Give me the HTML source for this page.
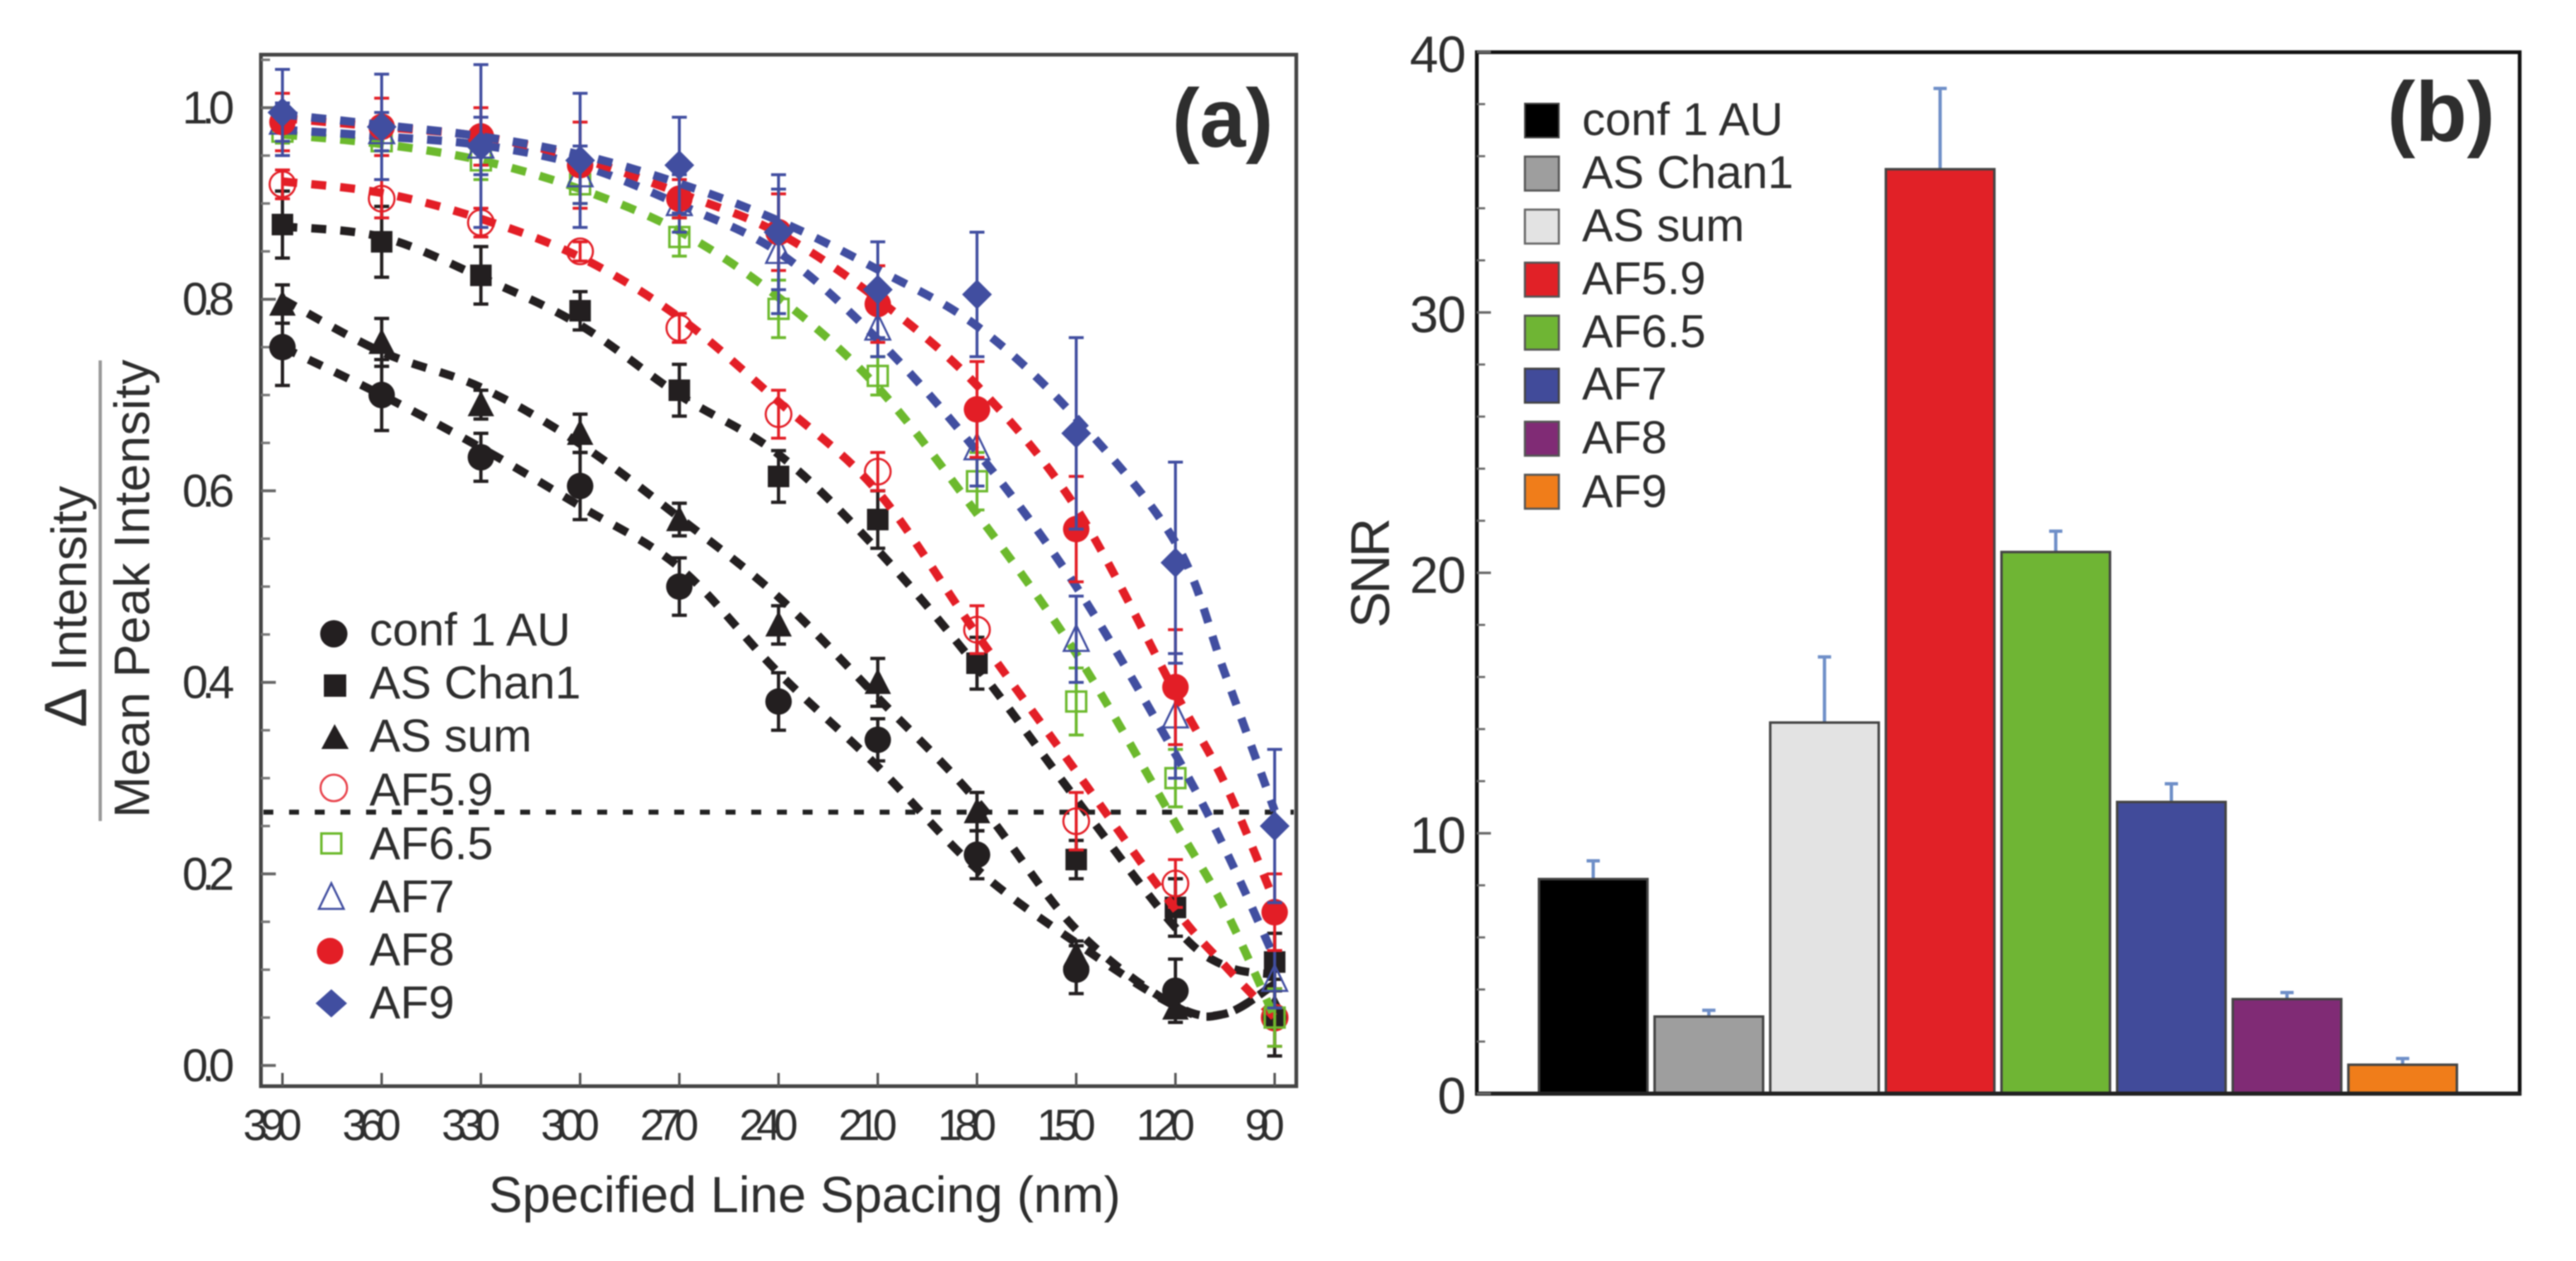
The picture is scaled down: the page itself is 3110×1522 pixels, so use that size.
<!DOCTYPE html>
<html lang="en">
<head>
<meta charset="utf-8">
<title>Resolution and SNR comparison</title>
<style>
html,body{margin:0;padding:0;background:#fff;width:3110px;height:1522px;overflow:hidden}
svg{display:block;filter:blur(0.9px)}
text{font-family:"Liberation Sans",sans-serif;fill:#2e2e2e}
</style>
</head>
<body>
<svg id="fig" xmlns="http://www.w3.org/2000/svg" width="3110" height="1522" viewBox="0 0 3110 1522">
  <rect x="0" y="0" width="3110" height="1522" fill="#fff"/>

  <g id="panelA">
    <rect x="315" y="66" width="1250" height="1245" fill="none" stroke="#444" stroke-width="4.5"/>
    <g id="aAxes"></g>
    <line id="aThreshold" x1="318" x2="1562" stroke="#222" stroke-width="6" stroke-dasharray="12 19"/>
    <g id="aMarks"></g>
    <text x="1415" y="177" font-size="100" font-weight="bold">(a)</text>
    <text x="590" y="1463" font-size="61" textLength="763">Specified Line Spacing (nm)</text>
    <text transform="translate(104,878) rotate(-90)"><tspan font-size="72" x="0">Δ</tspan><tspan font-size="60" x="68">Intensity</tspan></text>
    <line x1="121" x2="121" y1="435" y2="991" stroke="#999" stroke-width="4"/>
    <text transform="translate(180,987) rotate(-90)" font-size="60" textLength="553">Mean Peak Intensity</text>

    <g font-size="56">
      <g><circle cx="403" cy="765" r="16.5" fill="#231f20"/><text x="446" y="779">conf 1 AU</text></g>
      <g><rect x="391" y="814" width="27" height="27" fill="#231f20"/><text x="446" y="843">AS Chan1</text></g>
      <g><path d="M404 874 L421 904 L388 904 Z" fill="#231f20"/><text x="446" y="907">AS sum</text></g>
      <g><circle cx="403" cy="951" r="16" fill="none" stroke="#e8414a" stroke-width="2.5"/><text x="446" y="972">AF5.9</text></g>
      <g><rect x="388" y="1006" width="24" height="24" fill="none" stroke="#6cb92d" stroke-width="3"/><text x="446" y="1037">AF6.5</text></g>
      <g><path d="M400 1066 L415 1097 L385 1097 Z" fill="none" stroke="#414ea0" stroke-width="2.5"/><text x="446" y="1101">AF7</text></g>
      <g><circle cx="398.500" cy="1148" r="16" fill="#e31e26"/><text x="446" y="1165">AF8</text></g>
      <g><path d="M400 1194 L419 1211 L400 1228 L381 1211 Z" fill="#414ea0"/><text x="446" y="1229">AF9</text></g>
    </g>
  </g>

  <g id="panelB">
    <g id="bBars"></g>
    <rect x="1783" y="63" width="1259" height="1257" fill="none" stroke="#111" stroke-width="4.5"/>
    <g id="bAxes"></g>
    <text x="2882" y="170" font-size="102" font-weight="bold">(b)</text>
    <text transform="translate(1677,758) rotate(-90)" font-size="66" textLength="133">SNR</text>

    <g font-size="56">
      <g><rect x="1841" y="125" width="41" height="41" fill="#000" stroke="#444" stroke-width="2"/><text x="1910" y="163">conf 1 AU</text></g>
      <g><rect x="1841" y="189" width="41" height="41" fill="#9e9e9e" stroke="#555" stroke-width="2.500"/><text x="1910" y="227">AS Chan1</text></g>
      <g><rect x="1841" y="253" width="41" height="41" fill="#e3e3e3" stroke="#666" stroke-width="2.500"/><text x="1910" y="291">AS sum</text></g>
      <g><rect x="1841" y="317" width="41" height="41" fill="#e12127" stroke="#555" stroke-width="2.500"/><text x="1910" y="355">AF5.9</text></g>
      <g><rect x="1841" y="381" width="41" height="41" fill="#6fb534" stroke="#555" stroke-width="2.500"/><text x="1910" y="419">AF6.5</text></g>
      <g><rect x="1841" y="445" width="41" height="41" fill="#414b9a" stroke="#444" stroke-width="2.500"/><text x="1910" y="482">AF7</text></g>
      <g><rect x="1841" y="509" width="41" height="41" fill="#802b75" stroke="#555" stroke-width="2.500"/><text x="1910" y="547">AF8</text></g>
      <g><rect x="1841" y="573" width="41" height="41" fill="#f07d1a" stroke="#555" stroke-width="2.500"/><text x="1910" y="612">AF9</text></g>
    </g>
  </g>
</svg>

<script>
// ---------- Panel (a) data ----------
const spacings = [390, 360, 330, 300, 270, 240, 210, 180, 150, 120, 90];
const fitSpacings = [390, 360, 330, 300, 270, 240, 210, 180, 150, 120, 105, 90];
const thresholdValue = 0.2645;
const aYTicks = [0.0, 0.2, 0.4, 0.6, 0.8, 1.0];
const aYTickLabels = ['0.0', '0.2', '0.4', '0.6', '0.8', '1.0'];
const aYMinorTicks = [0.05, 0.1, 0.15, 0.25, 0.3, 0.35, 0.45, 0.5, 0.55, 0.65, 0.7, 0.75, 0.85, 0.9, 0.95, 1.05];

const confValues = [0.75, 0.70, 0.635, 0.605, 0.50, 0.38, 0.34, 0.22, 0.10, 0.078, 0.05];
const confErrors = [0.04, 0.037, 0.025, 0.035, 0.03, 0.03, 0.022, 0.025, 0.025, 0.033, 0.04];
const confFit = [0.75, 0.70, 0.645, 0.584, 0.52, 0.41, 0.312, 0.205, 0.128, 0.062, 0.054, 0.085];

const chan1Values = [0.878, 0.86, 0.825, 0.788, 0.705, 0.615, 0.57, 0.42, 0.215, 0.165, 0.108];
const chan1Errors = [0.035, 0.037, 0.03, 0.02, 0.027, 0.027, 0.03, 0.027, 0.02, 0.03, 0.03];
const chan1Fit = [0.876, 0.865, 0.823, 0.773, 0.70, 0.638, 0.538, 0.416, 0.278, 0.144, 0.104, 0.095];

const sumValues = [0.795, 0.755, 0.69, 0.66, 0.57, 0.46, 0.40, 0.265, 0.115, 0.06, 0.06];
const sumErrors = [0.02, 0.025, 0.015, 0.02, 0.017, 0.02, 0.025, 0.02, 0.015, 0.01, 0.02];
const sumFit = [0.80, 0.745, 0.708, 0.649, 0.572, 0.489, 0.384, 0.276, 0.142, 0.062, 0.054, 0.085];

const af59Values = [0.92, 0.905, 0.88, 0.85, 0.77, 0.68, 0.62, 0.455, 0.255, 0.19, 0.05];
const af59Errors = [0.015, 0.02, 0.015, 0.01, 0.015, 0.025, 0.02, 0.025, 0.03, 0.025, 0.03];
const af59Fit = [0.923, 0.911, 0.884, 0.844, 0.781, 0.693, 0.599, 0.45, 0.307, 0.163, 0.104, 0.05];

const af65Values = [0.975, 0.965, 0.945, 0.92, 0.865, 0.79, 0.72, 0.61, 0.38, 0.30, 0.05];
const af65Errors = [0.012, 0.015, 0.02, 0.02, 0.02, 0.03, 0.02, 0.03, 0.035, 0.03, 0.03];
const af65Fit = [0.972, 0.962, 0.945, 0.915, 0.871, 0.802, 0.708, 0.576, 0.43, 0.253, 0.163, 0.05];

const af7Values = [0.985, 0.975, 0.96, 0.93, 0.90, 0.85, 0.77, 0.645, 0.445, 0.365, 0.09];
const af7Errors = [0.02, 0.02, 0.03, 0.03, 0.03, 0.065, 0.03, 0.04, 0.045, 0.065, 0.03];
const af7Fit = [0.977, 0.97, 0.961, 0.94, 0.899, 0.849, 0.758, 0.641, 0.50, 0.325, 0.226, 0.112];

const af8Values = [0.985, 0.98, 0.97, 0.94, 0.905, 0.87, 0.795, 0.685, 0.56, 0.395, 0.16];
const af8Errors = [0.03, 0.03, 0.03, 0.045, 0.02, 0.04, 0.04, 0.05, 0.055, 0.06, 0.04];
const af8Fit = [0.989, 0.98, 0.97, 0.947, 0.911, 0.869, 0.80, 0.71, 0.582, 0.389, 0.294, 0.171];

const af9Values = [0.995, 0.98, 0.96, 0.945, 0.94, 0.87, 0.81, 0.805, 0.66, 0.525, 0.25];
const af9Errors = [0.045, 0.055, 0.085, 0.07, 0.05, 0.06, 0.05, 0.065, 0.10, 0.105, 0.08];
const af9Fit = [0.993, 0.982, 0.97, 0.951, 0.921, 0.882, 0.831, 0.772, 0.676, 0.546, 0.409, 0.266];

// ---------- Panel (b) data ----------
const snrCategories = ['conf 1 AU', 'AS Chan1', 'AS sum', 'AF5.9', 'AF6.5', 'AF7', 'AF8', 'AF9'];
const snrValues = [8.24, 2.96, 14.25, 35.5, 20.8, 11.2, 3.63, 1.11];
const snrErrorTops = [8.94, 3.2, 16.77, 38.6, 21.6, 11.9, 3.88, 1.35];
const snrColors = ['#000000', '#9e9e9e', '#e3e3e3', '#e12127', '#6fb534', '#414b9a', '#802b75', '#f07d1a'];
const bYTicks = [0, 10, 20, 30, 40];
const bYMinorTicks = [2, 4, 6, 8, 12, 14, 16, 18, 22, 24, 26, 28, 32, 34, 36, 38];

// ---------- Axis functions ----------
const xA = s => 341 + (390 - s) * 3.993;
const yA = v => 1286 - 1156 * v;
const yB = v => 1320 - 31.43 * v;
const barX = i => 1858 + i * 139.6;
const BAR_W = 131;

const NS = 'http://www.w3.org/2000/svg';
function make(tag, attrs, parent) {
  const el = document.createElementNS(NS, tag);
  for (const k in attrs) el.setAttribute(k, attrs[k]);
  parent.appendChild(el);
  return el;
}

// ---------- Panel (a) axes ----------
const aAxes = document.getElementById('aAxes');
aYTicks.forEach((v, i) => {
  const t = make('line', {x1: 315, x2: 333, y1: yA(v), y2: yA(v), stroke: '#666', 'stroke-width': 3.5}, aAxes);
  
  
  const l = make('text', {x: 220, y: yA(v) + 19, 'font-size': 56, textLength: 63}, aAxes);
  
  
  l.textContent = aYTickLabels[i];
});
aYMinorTicks.forEach(v => {
  const t = make('line', {x1: 315, x2: 326, y1: yA(v), y2: yA(v), stroke: '#777', 'stroke-width': 3}, aAxes);
  
  
});
spacings.forEach(s => {
  const t = make('line', {x1: xA(s), x2: xA(s), y1: 1311, y2: 1295, stroke: '#555', 'stroke-width': 3}, aAxes);
  
  
  const label = String(s);
  const w = label.length === 3 ? 71 : 48;
  const l = make('text', {x: xA(s) - 12 - w / 2, y: 1376, 'font-size': 53, textLength: w}, aAxes);
  
  
  l.textContent = label;
});
const th = document.getElementById('aThreshold');
th.setAttribute('y1', yA(thresholdValue));
th.setAttribute('y2', yA(thresholdValue));

// ---------- Panel (a) series ----------
function marker(kind, cx, cy, color, parent) {
  if (kind === 'circle') return make('circle', {cx, cy, r: 16, fill: color}, parent);
  if (kind === 'square') return make('rect', {x: cx - 13, y: cy - 13, width: 26, height: 26, fill: color}, parent);
  if (kind === 'triangle') return make('path', {d: `M${cx} ${cy - 17} L${cx + 16} ${cy + 14} L${cx - 16} ${cy + 14} Z`, fill: color}, parent);
  if (kind === 'openCircle') return make('circle', {cx, cy, r: 15.5, fill: 'none', stroke: color, 'stroke-width': 2.5}, parent);
  if (kind === 'openSquare') return make('rect', {x: cx - 12, y: cy - 12, width: 24, height: 24, fill: 'none', stroke: color, 'stroke-width': 3}, parent);
  if (kind === 'openTriangle') return make('path', {d: `M${cx} ${cy - 17} L${cx + 15} ${cy + 14} L${cx - 15} ${cy + 14} Z`, fill: 'none', stroke: color, 'stroke-width': 2.5}, parent);
  return make('path', {d: `M${cx} ${cy - 18} L${cx + 18} ${cy} L${cx} ${cy + 18} L${cx - 18} ${cy} Z`, fill: color}, parent);
}
function smoothPath(pts) {
  let d = `M${pts[0][0]} ${pts[0][1]}`;
  for (let i = 0; i < pts.length - 1; i++) {
    const p0 = pts[Math.max(i - 1, 0)], p1 = pts[i], p2 = pts[i + 1], p3 = pts[Math.min(i + 2, pts.length - 1)];
    d += ` C${p1[0] + (p2[0] - p0[0]) / 6} ${p1[1] + (p2[1] - p0[1]) / 6} ${p2[0] - (p3[0] - p1[0]) / 6} ${p2[1] - (p3[1] - p1[1]) / 6} ${p2[0]} ${p2[1]}`;
  }
  return d;
}
const BLACK = '#231f20', RED = '#e31e26', GREEN = '#6cb92d', BLUE = '#414ea0';
const seriesList = [
  {name: 'conf-1-au', kind: 'circle', color: BLACK, values: confValues, errors: confErrors, fit: confFit},
  {name: 'as-chan1', kind: 'square', color: BLACK, values: chan1Values, errors: chan1Errors, fit: chan1Fit},
  {name: 'as-sum', kind: 'triangle', color: BLACK, values: sumValues, errors: sumErrors, fit: sumFit},
  {name: 'af5-9', kind: 'openCircle', color: RED, values: af59Values, errors: af59Errors, fit: af59Fit},
  {name: 'af6-5', kind: 'openSquare', color: GREEN, values: af65Values, errors: af65Errors, fit: af65Fit},
  {name: 'af7', kind: 'openTriangle', color: BLUE, values: af7Values, errors: af7Errors, fit: af7Fit},
  {name: 'af8', kind: 'circle', color: RED, values: af8Values, errors: af8Errors, fit: af8Fit},
  {name: 'af9', kind: 'diamond', color: BLUE, values: af9Values, errors: af9Errors, fit: af9Fit}
];
const aMarks = document.getElementById('aMarks');
seriesList.forEach(s => {
  const g = make('g', {}, aMarks);
  
  
  s.values.forEach((v, i) => {
    const x = xA(spacings[i]);
    const top = yA(v + s.errors[i]), bot = yA(v - s.errors[i]);
    const e = make('path', {
      d: `M${x} ${top} V${bot} M${x - 9} ${top} H${x + 9} M${x - 9} ${bot} H${x + 9}`,
      fill: 'none', stroke: s.color, 'stroke-width': s.color === BLACK ? 4 : 3.5
    }, g);
    
    
    const m = marker(s.kind, x, yA(v), s.color, g);
    
    
  });
  const pts = s.fit.map((v, i) => [xA(fitSpacings[i]), yA(v)]);
  const c = make('path', {d: smoothPath(pts), fill: 'none', stroke: s.color, 'stroke-width': 10, 'stroke-dasharray': '18 17'}, g);
  
  
});

// ---------- Panel (b) ----------
const bBars = document.getElementById('bBars');
snrValues.forEach((v, i) => {
  const x = barX(i), top = yB(v), errTop = yB(snrErrorTops[i]), cx = x + BAR_W / 2;
  const e = make('path', {d: `M${cx} ${top} V${errTop} M${cx - 8} ${errTop} H${cx + 8}`, fill: 'none', stroke: '#6f8fc8', 'stroke-width': 4}, bBars);
  
  
  const b = make('rect', {x, y: top, width: BAR_W, height: yB(0) - top, fill: snrColors[i], stroke: '#444', 'stroke-width': 3}, bBars);
  
  
});
const bAxes = document.getElementById('bAxes');
const base = make('line', {x1: 1781, x2: 3044, y1: yB(0), y2: yB(0), stroke: '#222', 'stroke-width': 5}, bAxes);


bYTicks.forEach(v => {
  const t = make('line', {x1: 1783, x2: 1800, y1: yB(v), y2: yB(v), stroke: '#666', 'stroke-width': 3}, bAxes);
  
  
  const l = make('text', {x: 1769, y: yB(v) + 24, 'font-size': 62, 'text-anchor': 'end', 'letter-spacing': -1, fill: '#111'}, bAxes);
  
  
  l.textContent = String(v);
});
bYMinorTicks.forEach(v => {
  const t = make('line', {x1: 1783, x2: 1793, y1: yB(v), y2: yB(v), stroke: '#666', 'stroke-width': 2.5}, bAxes);
  
  
});
</script>
</body>
</html>
